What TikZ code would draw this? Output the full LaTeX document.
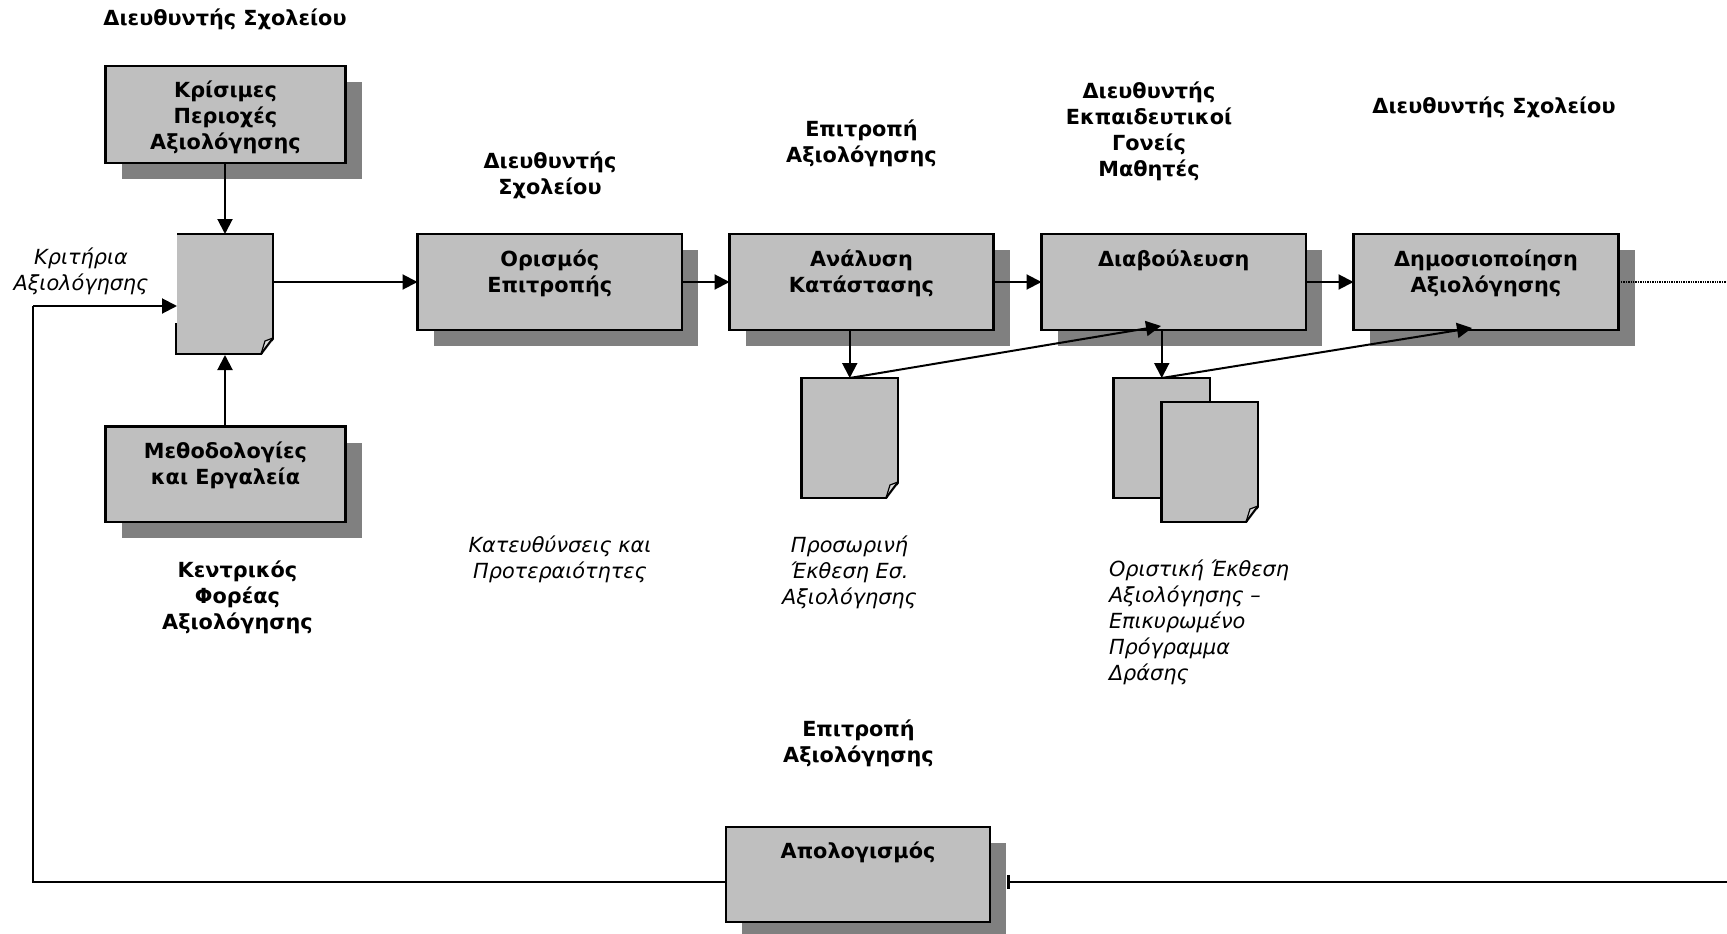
\documentclass[tikz,border=0pt]{standalone}
\usepackage{fontspec}
\setmainfont{DejaVu Sans}
\usetikzlibrary{calc,arrows.meta}
\definecolor{boxgray}{gray}{0.75}
\definecolor{shadowgray}{gray}{0.5}
\tikzset{
  every node/.style={inner sep=0pt,outer sep=0pt},
  boxn/.style={rectangle,fill=boxgray,draw=black,line width=2.2pt},
  sheet/.style={rectangle,fill=boxgray},
  edgeline/.style={draw=black,line width=2.2pt,line join=miter},
  conn/.style={draw=black,line width=2pt,-{Triangle[length=15pt,width=15pt]}},
  plainconn/.style={draw=black,line width=2pt},
  boxtxt/.style={anchor=north,align=center,font=\fontsize{20.8}{26}\selectfont\bfseries},
  role/.style={align=center,font=\fontsize{20.8}{26}\selectfont\bfseries},
  note/.style={align=center,font=\fontsize{20.8}{26}\selectfont\itshape},
}
\newcommand{\procbox}[5]{%
  \fill[shadowgray] (#2+16,#3+16) rectangle (#4+16,#5+16);
  \node[boxn,minimum width=#4pt-#2pt,minimum height=#5pt-#3pt] (#1) at ({(#2+#4)/2},{(#3+#5)/2}) {};
}
\newcommand{\sheetnode}[5]{%
  \node[sheet,minimum width=#4pt-#2pt,minimum height=#5pt-#3pt] (#1) at ({(#2+#4)/2},{(#3+#5)/2}) {};
}
\newcommand{\foldcorner}[1]{%
  \fill[white] ($(#1.south east)+(2,2)$) -- ($(#1.south east)+(-12,2)$) -- ($(#1.south east)+(2,-16)$) -- cycle;
  \fill[boxgray!55] ($(#1.south east)+(-12,0)$) -- ($(#1.south east)+(0,-16)$) -- ($(#1.south east)+(-8,-13)$) -- cycle;
  \draw[line width=1.2pt] ($(#1.south east)+(-12,0)$) -- ($(#1.south east)+(-8,-13)$) -- ($(#1.south east)+(0,-16)$);
  \draw[line width=2pt] ($(#1.south east)+(-12,0)$) -- ($(#1.south east)+(0,-16)$);
}
\begin{document}
\begin{tikzpicture}[x=1pt,y=-1pt]
\useasboundingbox (0,0) rectangle (1727,934);
% process boxes
\procbox{crit}{105.5}{66}{345.5}{163}
\procbox{meth}{105.5}{426.5}{345.5}{522}
\procbox{orism}{417.5}{234}{682}{330}
\procbox{anal}{729.5}{234}{993.5}{330}
\procbox{diav}{1041.5}{234}{1306}{330}
\procbox{dim}{1353.5}{234}{1618.5}{330}
\procbox{apol}{726}{827}{990}{922}
\node[boxtxt] at ($(crit.north)+(0,15)$) {Κρίσιμες\\Περιοχές\\Αξιολόγησης};
\node[boxtxt] at ($(meth.north)+(0,15)$) {Μεθοδολογίες\\και Εργαλεία};
\node[boxtxt] at ($(orism.north)+(0,15.5)$) {Ορισμός\\Επιτροπής};
\node[boxtxt] at ($(anal.north)+(0,15.5)$) {Ανάλυση\\Κατάστασης};
\node[boxtxt] at ($(diav.north)+(0,15.5)$) {Διαβούλευση};
\node[boxtxt] at ($(dim.north)+(0,15.5)$) {Δημοσιοποίηση\\Αξιολόγησης};
\node[boxtxt] at ($(apol.north)+(0,15)$) {Απολογισμός};
% documents
\sheetnode{doca}{177}{234}{273}{354}
\draw[edgeline] (doca.north west) -- (doca.north east) -- (doca.south east);
\draw[edgeline] ($(doca.south west)+(-1,-31)$) -- ($(doca.south west)+(-1,0)$) -- (doca.south east);
\foldcorner{doca}
\sheetnode{docb}{801.5}{378}{898}{498}
\draw[edgeline] (docb.north west) rectangle (docb.south east);
\foldcorner{docb}
\sheetnode{docc}{1113.5}{378}{1210}{498}
\draw[edgeline] (docc.north west) rectangle (docc.south east);
\sheetnode{docd}{1161.5}{402}{1258}{522}
\draw[edgeline] (docd.north west) rectangle (docd.south east);
\foldcorner{docd}
% coordinates for free ends
\coordinate (rightin) at (1727,882);
\coordinate (rightout) at (1727,282);
\coordinate (leftcorner) at (33,882);
\coordinate (leftup) at (33,306);
\coordinate (aptip) at (1008,882);
\coordinate (diavhit) at (1161,326);
\coordinate (dimhit) at (1472,328);
% connectors
\draw[conn] (crit.south -| doca.north) -- (doca.north);
\draw[conn] (meth.north -| doca.south) -- ($(doca.south)+(0,1)$);
\draw[conn] (doca.east |- orism.west) -- (orism.west);
\draw[conn] (orism.east) -- (anal.west);
\draw[conn] (anal.east) -- (diav.west);
\draw[conn] (diav.east) -- (dim.west);
\draw[conn] (docb.north |- anal.south) -- (docb.north);
\draw[conn] (docc.north |- diav.south) -- (docc.north);
\draw[conn] (docb.north) -- (diavhit);
\draw[conn] (docc.north) -- (dimhit);
\draw[plainconn] (apol.west |- leftcorner) -- (leftcorner) -- (leftup);
\draw[conn] (leftup) -- (leftup -| doca.west);
\draw[plainconn] (rightin) -- (aptip);
\draw[line width=3pt] ($(aptip)+(0,-7)$) -- ($(aptip)+(0,7)$);
\draw[line width=1.4pt,densely dotted] (dim.east) -- (rightout);
% roles
\node[role] at (225,19) {Διευθυντής Σχολείου};
\node[role] at (550,175.5) {Διευθυντής\\Σχολείου};
\node[role] at (861.5,143.5) {Επιτροπή\\Αξιολόγησης};
\node[role] at (1149,131.5) {Διευθυντής\\Εκπαιδευτικοί\\Γονείς\\Μαθητές};
\node[role] at (1494,107) {Διευθυντής Σχολείου};
\node[role] at (237.5,597.5) {Κεντρικός\\Φορέας\\Αξιολόγησης};
\node[role] at (858.5,743.5) {Επιτροπή\\Αξιολόγησης};
% notes
\node[note] at (81,271.5) {Κριτήρια\\Αξιολόγησης};
\node[note] at (560,559.5) {Κατευθύνσεις και\\Προτεραιότητες};
\node[note] at (849.5,572.5) {Προσωρινή\\Έκθεση Εσ.\\Αξιολόγησης};
\node[note,align=left,anchor=west] at (1109,622.5) {Οριστική Έκθεση\\Αξιολόγησης –\\Επικυρωμένο\\Πρόγραμμα\\Δράσης};
\end{tikzpicture}
\end{document}
